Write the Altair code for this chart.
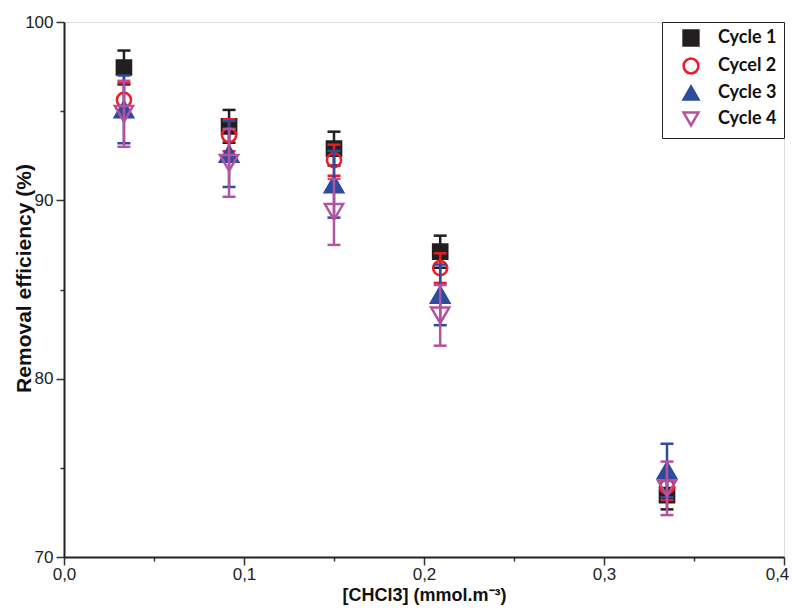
import altair as alt
import pandas as pd

# ---- data ----
conc = [0.0333, 0.0917, 0.150, 0.209, 0.335]
series_names = ["Cycle 1", "Cycel 2", "Cycle 3", "Cycle 4"]
cycle1_mean = [97.45, 94.15, 92.90, 87.12, 73.47]
cycle1_err = [0.95, 0.92, 0.95, 0.90, 0.80]
cycle2_mean = [95.63, 93.65, 92.25, 86.20, 73.94]
cycle2_err = [0.95, 0.90, 0.87, 0.83, 0.75]
cycle3_mean = [95.10, 92.60, 90.90, 84.70, 74.85]
cycle3_err = [1.90, 1.85, 1.87, 1.70, 1.50]
cycle4_mean = [94.85, 92.10, 89.35, 83.55, 73.85]
cycle4_err = [1.85, 1.90, 1.85, 1.70, 1.50]

x_ticks = [0.0, 0.05, 0.1, 0.15, 0.2, 0.25, 0.3, 0.35, 0.4]
y_ticks = [70, 75, 80, 85, 90, 95, 100]

colors = ["#231f20", "#ed1c24", "#2e4c9e", "#b4529f"]
fills = ["#231f20", "transparent", "#2e4c9e", "transparent"]
shapes = ["square", "circle", "triangle-up", "triangle-down"]

means = [cycle1_mean, cycle2_mean, cycle3_mean, cycle4_mean]
errs = [cycle1_err, cycle2_err, cycle3_err, cycle4_err]

rows = []
for name, m, e in zip(series_names, means, errs):
    for xv, mv, ev in zip(conc, m, e):
        rows.append({"x": xv, "series": name, "y": mv, "lo": mv - ev, "hi": mv + ev})
df = pd.DataFrame(rows)

xscale = alt.Scale(domain=[0, 0.4], nice=False, zero=False)
yscale = alt.Scale(domain=[70, 100], nice=False, zero=False)

major_x = "abs(datum.value*10 - round(datum.value*10)) < 0.001"
major_y = "datum.value % 10 == 0"

x_axis = alt.Axis(
    values=x_ticks,
    title="[CHCl3] (mmol.m⁻³)",
    labelExpr=f"({major_x}) ? replace(format(datum.value, '.1f'), '.', ',') : ''",
    tickSize={"condition": {"test": major_x, "value": 8}, "value": 4},
    labelOffset={"condition": {"test": "datum.value > 0.39", "value": -7}, "value": 0},
    labelFont="Liberation Sans Narrow, Liberation Sans",
    labelFontSize=17,
    labelColor="#222",
    labelPadding=1,
    labelOverlap=False,
    labelFlush=False,
    titleFont="Liberation Sans",
    titleFontSize=18,
    titleFontWeight="bold",
    titleColor="#111",
    titleY=29,
    grid=False,
    tickColor="#333",
    tickWidth=1.5,
    domainColor="#222",
    domainWidth=2,
)
y_axis = alt.Axis(
    values=y_ticks,
    title="Removal efficiency (%)",
    labelExpr=f"({major_y}) ? datum.label : ''",
    tickSize={"condition": {"test": major_y, "value": 8}, "value": 4},
    labelFont="Liberation Sans",
    labelFontSize=17,
    labelColor="#222",
    labelPadding=3,
    labelOverlap=False,
    labelFlush=False,
    titleFont="Liberation Sans",
    titleFontSize=21,
    titleFontWeight="bold",
    titleColor="#111",
    titleX=-30,
    titleY=256,
    grid=False,
    tickColor="#333",
    tickWidth=1.5,
    domainColor="#222",
    domainWidth=2,
)

legend = alt.Legend(
    title=None,
    orient="top-right",
    offset=0,
    padding=7,
    strokeColor="#222",
    fillColor="white",
    labelFont="Lato",
    labelFontSize=18,
    labelFontWeight="bold",
    labelColor="#111",
    labelOffset=18,
    symbolOffset=13,
    rowPadding=2,
    symbolSize=220,
    symbolStrokeWidth=2.5,
)

base = alt.Chart(df)
layers = []
for i, name in enumerate(series_names):
    sub = base.transform_filter(alt.datum.series == name)
    pts = sub.mark_point(opacity=1, strokeWidth=2.5).encode(
        x=alt.X("x:Q", scale=xscale, axis=x_axis),
        y=alt.Y("y:Q", scale=yscale, axis=y_axis),
        shape=alt.Shape("series:N", scale=alt.Scale(domain=series_names, range=shapes), legend=legend),
        fill=alt.Fill("series:N", scale=alt.Scale(domain=series_names, range=fills), legend=legend),
        stroke=alt.Stroke("series:N", scale=alt.Scale(domain=series_names, range=colors), legend=legend),
        size=alt.value(200 if shapes[i] in ("square", "circle") else 330),
    )
    rule = sub.mark_rule(strokeWidth=2.5, color=colors[i]).encode(
        x=alt.X("x:Q", scale=xscale), y=alt.Y("lo:Q", scale=yscale), y2="hi:Q"
    )
    cap_lo = sub.mark_tick(orient="horizontal", size=13, thickness=2.5, color=colors[i], opacity=1).encode(
        x=alt.X("x:Q", scale=xscale), y=alt.Y("lo:Q", scale=yscale)
    )
    cap_hi = sub.mark_tick(orient="horizontal", size=13, thickness=2.5, color=colors[i], opacity=1).encode(
        x=alt.X("x:Q", scale=xscale), y=alt.Y("hi:Q", scale=yscale)
    )
    layers += [pts, rule, cap_lo, cap_hi]

chart = alt.layer(*layers).properties(
    width=720,
    height=535,
    autosize=alt.AutoSizeParams(type="none"),
    padding={"left": 56, "top": 14, "right": 6, "bottom": 51},
).configure_view(stroke="#222", strokeWidth=2).configure(background="white")

chart.save("out.html", embed_options={"renderer": "svg", "actions": False})
